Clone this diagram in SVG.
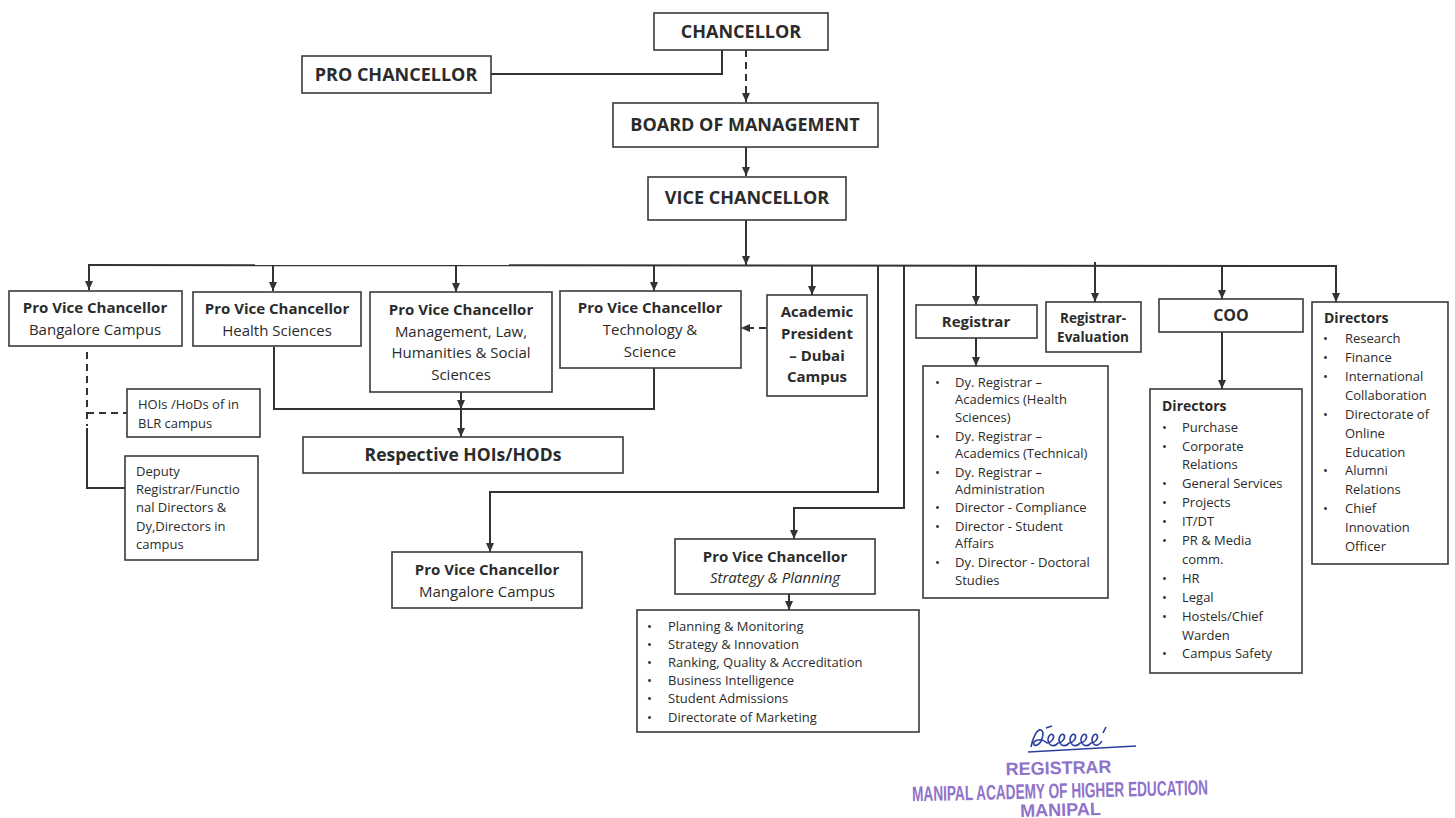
<svg xmlns="http://www.w3.org/2000/svg" width="1455" height="818" viewBox="0 0 1455 818">
<defs>
<marker id="ah" markerUnits="userSpaceOnUse" markerWidth="10" markerHeight="10" refX="9" refY="4" orient="auto">
<path d="M0,0 L9,4 L0,8 z" fill="#333"/>
</marker>
<style>
.bx{fill:#fff;stroke:#3a3a3a;stroke-width:1.6}
.ln{fill:none;stroke:#333;stroke-width:2}
.ds{stroke-dasharray:7 5}
text{font-family:"Open Sans","Noto Sans",Lato,sans-serif;fill:#2b2b2b}
.t{font-size:18px;font-weight:bold;text-anchor:middle}
.h{font-size:15px;font-weight:bold;text-anchor:middle}
.r{font-size:15px;text-anchor:middle}
.s{font-size:13px}
.sb{font-size:14px;font-weight:bold}
.st{font-family:"Liberation Sans",Arial,sans-serif;font-weight:bold;fill:#8f72c9;text-anchor:middle}
</style>
</defs>
<rect width="1455" height="818" fill="#fff"/>

<g id="connectors">
<path class="ln" d="M722,50 V74 H491"/>
<line class="ln ds" x1="746" y1="50" x2="746" y2="102" marker-end="url(#ah)"/>
<line class="ln" x1="746" y1="147" x2="746" y2="176" marker-end="url(#ah)"/>
<line class="ln" x1="746" y1="220" x2="746" y2="265" marker-end="url(#ah)"/>
<line class="ln" x1="88" y1="265" x2="1337" y2="266"/>
<line class="ln" x1="89" y1="265" x2="89" y2="290" marker-end="url(#ah)"/>
<line class="ln" x1="273" y1="265" x2="273" y2="291" marker-end="url(#ah)"/>
<line class="ln" x1="456" y1="265" x2="456" y2="292" marker-end="url(#ah)"/>
<line class="ln" x1="654" y1="265" x2="654" y2="291" marker-end="url(#ah)"/>
<line class="ln" x1="812" y1="265" x2="812" y2="295" marker-end="url(#ah)"/>
<line class="ln" x1="976" y1="266" x2="976" y2="305" marker-end="url(#ah)"/>
<line class="ln" x1="1095" y1="262" x2="1095" y2="302" marker-end="url(#ah)"/>
<line class="ln" x1="1222" y1="266" x2="1222" y2="299" marker-end="url(#ah)"/>
<line class="ln" x1="1336" y1="266" x2="1336" y2="302" marker-end="url(#ah)"/>
<path class="ln" d="M878,266 V492 H490 V552" marker-end="url(#ah)"/>
<path class="ln" d="M904,266 V508 H794 V539" marker-end="url(#ah)"/>
<line class="ln" x1="976" y1="338" x2="976" y2="366" marker-end="url(#ah)"/>
<line class="ln" x1="1222" y1="332" x2="1222" y2="389" marker-end="url(#ah)"/>
<line class="ln" x1="789" y1="594" x2="789" y2="610" marker-end="url(#ah)"/>
<line class="ln ds" x1="766" y1="328" x2="741" y2="328" marker-end="url(#ah)"/>
<path class="ln" d="M274,347 V409 H654 V368"/>
<line class="ln" x1="461" y1="392" x2="461" y2="409" marker-end="url(#ah)"/>
<line class="ln" x1="461" y1="409" x2="461" y2="437" marker-end="url(#ah)"/>
<line class="ln ds" x1="87" y1="352" x2="87" y2="426"/>
<line class="ln ds" x1="87" y1="413" x2="127" y2="413"/>
<path class="ln" d="M87,428 V488 H125"/>
</g>

<g id="chancellor"><rect class="bx" x="654" y="13" width="174" height="37"/><text class="t" x="741" y="38">CHANCELLOR</text></g>
<g id="pro-chancellor"><rect class="bx" x="302" y="56" width="189" height="37"/><text class="t" x="396" y="81">PRO CHANCELLOR</text></g>
<g id="board"><rect class="bx" x="613" y="103" width="265" height="44"/><text class="t" x="745" y="131">BOARD OF MANAGEMENT</text></g>
<g id="vice-chancellor"><rect class="bx" x="648" y="177" width="198" height="43"/><text class="t" x="747" y="204">VICE CHANCELLOR</text></g>

<g id="pvc-bangalore"><rect class="bx" x="9" y="291" width="173" height="55"/><text class="h" x="95" y="313">Pro Vice Chancellor</text><text class="r" x="95" y="335">Bangalore Campus</text></g>
<g id="pvc-health"><rect class="bx" x="193" y="292" width="168" height="54"/><text class="h" x="277" y="314">Pro Vice Chancellor</text><text class="r" x="277" y="336">Health Sciences</text></g>
<g id="pvc-management"><rect class="bx" x="370" y="292" width="182" height="100"/><text class="h" x="461" y="315">Pro Vice Chancellor</text><text class="r" x="461" y="337">Management, Law,</text><text class="r" x="461" y="358">Humanities &amp; Social</text><text class="r" x="461" y="380">Sciences</text></g>
<g id="pvc-technology"><rect class="bx" x="560" y="291" width="181" height="77"/><text class="h" x="650" y="313">Pro Vice Chancellor</text><text class="r" x="650" y="335">Technology &amp;</text><text class="r" x="650" y="357">Science</text></g>
<g id="academic-president"><rect class="bx" x="767" y="295" width="100" height="101"/><text class="h" x="817" y="317">Academic</text><text class="h" x="817" y="339">President</text><text class="h" x="817" y="361">– Dubai</text><text class="h" x="817" y="382">Campus</text></g>

<g id="hois-blr"><rect class="bx" x="127" y="389" width="133" height="48"/><text class="s" x="138" y="409">HOIs /HoDs of in</text><text class="s" x="138" y="428">BLR campus</text></g>
<g id="deputy-registrar"><rect class="bx" x="125" y="456" width="133" height="104"/><text class="s" x="136" y="476">Deputy</text><text class="s" x="136" y="494">Registrar/Functio</text><text class="s" x="136" y="512">nal Directors &amp;</text><text class="s" x="136" y="531">Dy,Directors in</text><text class="s" x="136" y="549">campus</text></g>
<g id="respective-hois"><rect class="bx" x="303" y="437" width="320" height="36"/><text x="463" y="461" style="font-size:17.5px;font-weight:bold;text-anchor:middle">Respective HOIs/HODs</text></g>

<g id="pvc-mangalore"><rect class="bx" x="392" y="552" width="190" height="56"/><text class="h" x="487" y="575">Pro Vice Chancellor</text><text class="r" x="487" y="597">Mangalore Campus</text></g>
<g id="pvc-strategy"><rect class="bx" x="675" y="539" width="200" height="55"/><text class="h" x="775" y="562">Pro Vice Chancellor</text><text class="r" x="775" y="583" font-style="italic">Strategy &amp; Planning</text></g>
<g id="strategy-list"><rect class="bx" x="637" y="610" width="282" height="122"/>
<text class="s" x="647" y="631">•</text><text class="s" x="668" y="631">Planning &amp; Monitoring</text>
<text class="s" x="647" y="649">•</text><text class="s" x="668" y="649">Strategy &amp; Innovation</text>
<text class="s" x="647" y="667">•</text><text class="s" x="668" y="667">Ranking, Quality &amp; Accreditation</text>
<text class="s" x="647" y="685">•</text><text class="s" x="668" y="685">Business Intelligence</text>
<text class="s" x="647" y="703">•</text><text class="s" x="668" y="703">Student Admissions</text>
<text class="s" x="647" y="722">•</text><text class="s" x="668" y="722">Directorate of Marketing</text></g>

<g id="registrar"><rect class="bx" x="916" y="305" width="121" height="33"/><text class="h" x="976" y="327">Registrar</text></g>
<g id="registrar-evaluation"><rect class="bx" x="1046" y="302" width="95" height="50"/><text class="h" x="1093" y="323" style="font-size:13.5px">Registrar-</text><text class="h" x="1093" y="342" style="font-size:13.5px">Evaluation</text></g>
<g id="registrar-list"><rect class="bx" x="923" y="366" width="185" height="232"/>
<text class="s" x="935" y="387">•</text><text class="s" x="955" y="387">Dy. Registrar –</text>
<text class="s" x="955" y="404">Academics (Health</text>
<text class="s" x="955" y="422">Sciences)</text>
<text class="s" x="935" y="441">•</text><text class="s" x="955" y="441">Dy. Registrar –</text>
<text class="s" x="955" y="458">Academics (Technical)</text>
<text class="s" x="935" y="477">•</text><text class="s" x="955" y="477">Dy. Registrar –</text>
<text class="s" x="955" y="494">Administration</text>
<text class="s" x="935" y="512">•</text><text class="s" x="955" y="512">Director - Compliance</text>
<text class="s" x="935" y="531">•</text><text class="s" x="955" y="531">Director - Student</text>
<text class="s" x="955" y="548">Affairs</text>
<text class="s" x="935" y="567">•</text><text class="s" x="955" y="567">Dy. Director - Doctoral</text>
<text class="s" x="955" y="585">Studies</text></g>

<g id="coo"><rect class="bx" x="1159" y="299" width="144" height="33"/><text class="h" x="1231" y="321" style="font-size:16px">COO</text></g>
<g id="coo-directors"><rect class="bx" x="1150" y="389" width="152" height="284"/>
<text class="sb" x="1162" y="411">Directors</text>
<text class="s" x="1162" y="432">•</text><text class="s" x="1182" y="432">Purchase</text>
<text class="s" x="1162" y="451">•</text><text class="s" x="1182" y="451">Corporate</text>
<text class="s" x="1182" y="469">Relations</text>
<text class="s" x="1162" y="488">•</text><text class="s" x="1182" y="488">General Services</text>
<text class="s" x="1162" y="507">•</text><text class="s" x="1182" y="507">Projects</text>
<text class="s" x="1162" y="526">•</text><text class="s" x="1182" y="526">IT/DT</text>
<text class="s" x="1162" y="545">•</text><text class="s" x="1182" y="545">PR &amp; Media</text>
<text class="s" x="1182" y="564">comm.</text>
<text class="s" x="1162" y="583">•</text><text class="s" x="1182" y="583">HR</text>
<text class="s" x="1162" y="602">•</text><text class="s" x="1182" y="602">Legal</text>
<text class="s" x="1162" y="621">•</text><text class="s" x="1182" y="621">Hostels/Chief</text>
<text class="s" x="1182" y="640">Warden</text>
<text class="s" x="1162" y="658">•</text><text class="s" x="1182" y="658">Campus Safety</text></g>

<g id="directors"><rect class="bx" x="1312" y="302" width="136" height="262"/>
<text class="sb" x="1324" y="323">Directors</text>
<text class="s" x="1323" y="343">•</text><text class="s" x="1345" y="343">Research</text>
<text class="s" x="1323" y="362">•</text><text class="s" x="1345" y="362">Finance</text>
<text class="s" x="1323" y="381">•</text><text class="s" x="1345" y="381">International</text>
<text class="s" x="1345" y="400">Collaboration</text>
<text class="s" x="1323" y="419">•</text><text class="s" x="1345" y="419">Directorate of</text>
<text class="s" x="1345" y="438">Online</text>
<text class="s" x="1345" y="457">Education</text>
<text class="s" x="1323" y="475">•</text><text class="s" x="1345" y="475">Alumni</text>
<text class="s" x="1345" y="494">Relations</text>
<text class="s" x="1323" y="513">•</text><text class="s" x="1345" y="513">Chief</text>
<text class="s" x="1345" y="532">Innovation</text>
<text class="s" x="1345" y="551">Officer</text></g>

<g id="stamp">
<path d="M1031,747 C1033,737 1037,729 1041,730 C1045,732 1042,743 1037,745 C1033,747 1032,741 1038,740 C1042,739 1045,741 1047,743 C1051,743 1055,738 1053,735 C1051,732 1046,738 1049,743 C1051,747 1056,746 1058,743 C1062,743 1066,738 1064,735 C1062,732 1057,738 1060,743 C1062,747 1067,746 1069,743 C1073,743 1077,738 1075,735 C1073,732 1068,738 1071,743 C1073,747 1078,746 1080,743 C1084,743 1088,738 1086,735 C1084,732 1079,738 1082,743 C1084,747 1089,746 1091,743 C1095,743 1099,738 1097,735 C1095,732 1090,738 1093,743 C1095,747 1100,745 1102,741 M1103,733 L1106,727 M1046,728 L1052,726" fill="none" stroke="#2c3f9e" stroke-width="1.6"/>
<line x1="1028" y1="752" x2="1136" y2="746" stroke="#2c3f9e" stroke-width="1.6"/>
<g transform="rotate(-1.3 1060 790)">
<text class="st" x="1059" y="774" style="font-size:18px">REGISTRAR</text>
<text class="st" x="1060" y="798" style="font-size:21px" textLength="296" lengthAdjust="spacingAndGlyphs">MANIPAL  ACADEMY OF HIGHER EDUCATION</text>
<text class="st" x="1060" y="816" style="font-size:18px">MANIPAL</text>
</g>
</g>
</svg>
